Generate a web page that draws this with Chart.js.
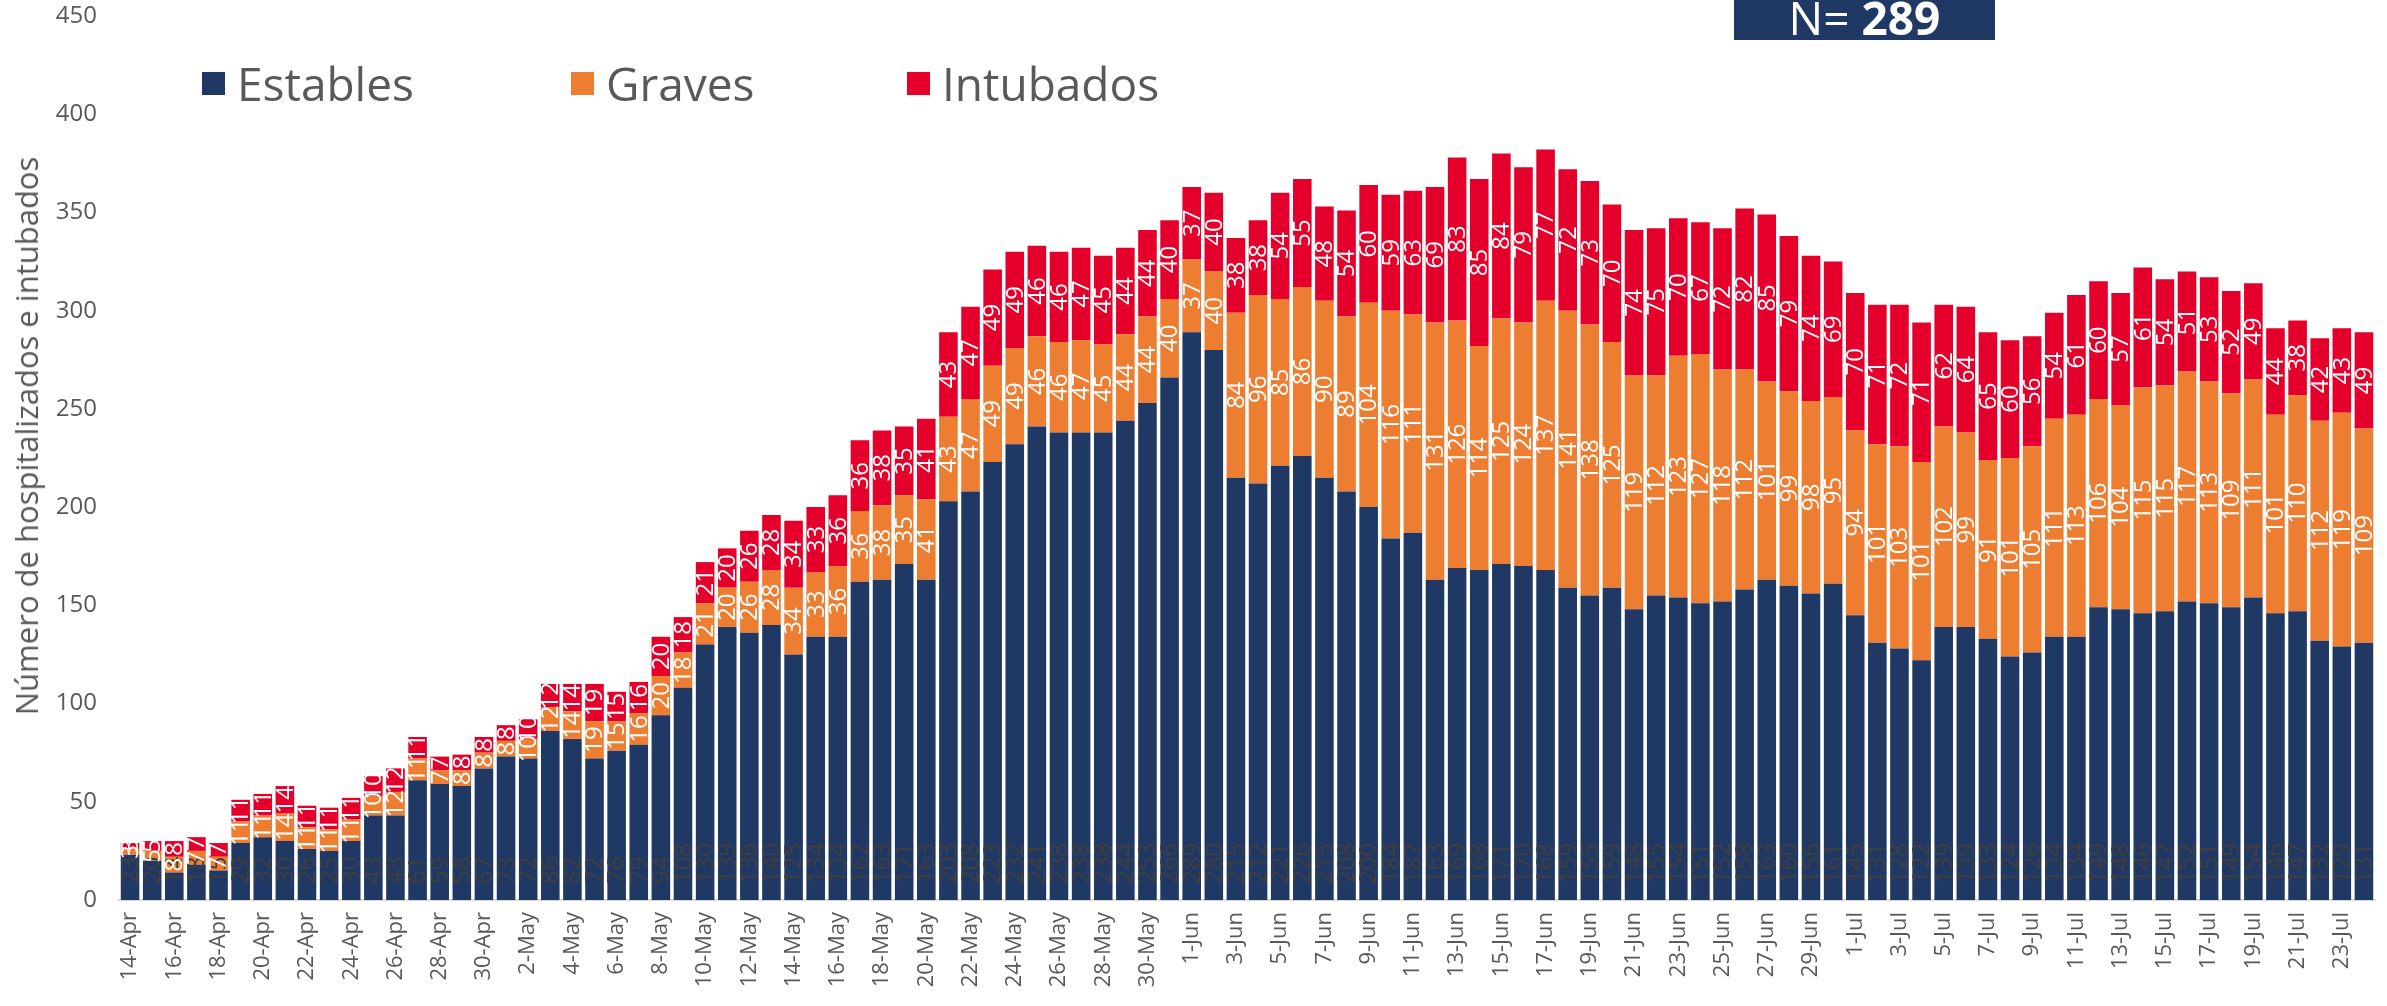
<!DOCTYPE html>
<html lang="es">
<head>
<meta charset="utf-8">
<title>Hospitalizados e intubados</title>
<script src="https://cdn.jsdelivr.net/npm/chart.js@4.4.1/dist/chart.umd.min.js"></script>
<style>
    html, body { margin: 0; padding: 0; background: #fff; }
    #wrap { position: relative; width: 2387px; height: 1006px; overflow: hidden; font-family: "Open Sans", "Noto Sans", sans-serif; }
    #chart { position: absolute; left: 0; top: 0; }
    .leg { position: absolute; top: 52px; display: flex; align-items: center; color: #595959; font-size: 46px; }
    .leg i { display: inline-block; width: 23px; height: 23px; margin-right: 12px; }
    #nbox { position: absolute; left: 1734px; top: -8px; width: 261px; height: 48px; background: #1f3864; color: #fff;
            font-size: 46px; line-height: 50px; text-align: center; }
    #nbox b { font-weight: 700; }
    #ytitle { position: absolute; left: 26px; top: 436px; width: 0; height: 0; }
    #ytitle span { position: absolute; left: 0; top: 0; transform: translate(-50%, -50%) rotate(-90deg);
                   white-space: nowrap; color: #595959; font-size: 31px; }
</style>
</head>
<body>
<div id="wrap">
    <canvas id="chart" width="2387" height="1006"></canvas>
    <div class="leg" style="left:202px"><i style="background:#1f3864"></i>Estables</div>
    <div class="leg" style="left:571px"><i style="background:#ed7d31"></i>Graves</div>
    <div class="leg" style="left:907px"><i style="background:#e4002b"></i>Intubados</div>
    <div id="nbox">N= <b>289</b></div>
    <div id="ytitle"><span>Número de hospitalizados e intubados</span></div>
</div>
<script>
const fechas = [
    '14-Apr','15-Apr','16-Apr','17-Apr','18-Apr','19-Apr','20-Apr','21-Apr','22-Apr','23-Apr',
    '24-Apr','25-Apr','26-Apr','27-Apr','28-Apr','29-Apr','30-Apr',
    '1-May','2-May','3-May','4-May','5-May','6-May','7-May','8-May','9-May','10-May',
    '11-May','12-May','13-May','14-May','15-May','16-May','17-May','18-May','19-May','20-May',
    '21-May','22-May','23-May','24-May','25-May','26-May','27-May','28-May','29-May','30-May','31-May',
    '1-Jun','2-Jun','3-Jun','4-Jun','5-Jun','6-Jun','7-Jun','8-Jun','9-Jun','10-Jun',
    '11-Jun','12-Jun','13-Jun','14-Jun','15-Jun','16-Jun','17-Jun','18-Jun','19-Jun','20-Jun',
    '21-Jun','22-Jun','23-Jun','24-Jun','25-Jun','26-Jun','27-Jun','28-Jun','29-Jun','30-Jun',
    '1-Jul','2-Jul','3-Jul','4-Jul','5-Jul','6-Jul','7-Jul','8-Jul','9-Jul','10-Jul',
    '11-Jul','12-Jul','13-Jul','14-Jul','15-Jul','16-Jul','17-Jul','18-Jul','19-Jul','20-Jul',
    '21-Jul','22-Jul','23-Jul','24-Jul'
];

const estables = [
    23, 20, 14, 18, 15, 29, 32, 30, 26, 25, 30, 43, 43, 61, 59, 58, 67,
    73, 72, 86, 82, 72, 76, 79, 94, 108, 130, 139, 136, 140, 125, 134, 134, 162, 163, 171, 163,
    203, 208, 223, 232, 241, 238, 238, 238, 244, 253, 266,
    289, 280, 215, 212, 221, 226, 215, 208, 200, 184, 187, 163, 169, 168, 171, 170, 168, 159, 155, 159,
    148, 155, 154, 151, 152, 158, 163, 160, 156, 161,
    145, 131, 128, 122, 139, 139, 133, 124, 126, 134, 134, 149, 148, 146, 147, 152, 151, 149, 154, 146,
    147, 132, 129, 131
];

const graves = [
    3, 5, 8, 7, 7, 11, 11, 14, 11, 11, 11, 10, 12, 11, 7, 8, 8,
    8, 10, 12, 14, 19, 15, 16, 20, 18, 21, 20, 26, 28, 34, 33, 36, 36, 38, 35, 41,
    43, 47, 49, 49, 46, 46, 47, 45, 44, 44, 40,
    37, 40, 84, 96, 85, 86, 90, 89, 104, 116, 111, 131, 126, 114, 125, 124, 137, 141, 138, 125,
    119, 112, 123, 127, 118, 112, 101, 99, 98, 95,
    94, 101, 103, 101, 102, 99, 91, 101, 105, 111, 113, 106, 104, 115, 115, 117, 113, 109, 111, 101,
    110, 112, 119, 109
];

const intubados = [
    3, 5, 8, 7, 7, 11, 11, 14, 11, 11, 11, 10, 12, 11, 7, 8, 8,
    8, 10, 12, 14, 19, 15, 16, 20, 18, 21, 20, 26, 28, 34, 33, 36, 36, 38, 35, 41,
    43, 47, 49, 49, 46, 46, 47, 45, 44, 44, 40,
    37, 40, 38, 38, 54, 55, 48, 54, 60, 59, 63, 69, 83, 85, 84, 79, 77, 72, 73, 70,
    74, 75, 70, 67, 72, 82, 85, 79, 74, 69,
    70, 71, 72, 71, 62, 64, 65, 60, 56, 54, 61, 60, 57, 61, 54, 51, 53, 52, 49, 44,
    38, 42, 43, 49
];

const yTicks = [0, 50, 100, 150, 200, 250, 300, 350, 400, 450];

const colEstables = '#1f3864';
const colGraves = '#ed7d31';
const colIntubados = '#e4002b';
const labelFont = '24px "Open Sans", sans-serif';

// etiquetas giradas dentro de cada segmento
const barLabels = {
    id: 'barLabels',
    afterDatasetsDraw(chart) {
        const ctx = chart.ctx;
        chart.data.datasets.forEach((ds, di) => {
            const meta = chart.getDatasetMeta(di);
            meta.data.forEach((bar, i) => {
                const v = ds.data[i];
                ctx.save();
                ctx.font = labelFont;
                ctx.textBaseline = 'middle';
                if (di === 0) {
                    ctx.translate(bar.x, bar.base - 16);
                    ctx.rotate(-Math.PI / 2);
                    ctx.fillStyle = '#404040';
                    ctx.textAlign = 'left';
                } else {
                    ctx.translate(bar.x, (bar.y + bar.base) / 2);
                    ctx.rotate(-Math.PI / 2);
                    ctx.fillStyle = '#ffffff';
                    ctx.textAlign = 'center';
                }
                ctx.fillText(String(v), 0, 1);
                ctx.restore();
            });
        });
    }
};

const ctx = document.getElementById('chart').getContext('2d');
const chart = new Chart(ctx, {
    type: 'bar',
    data: {
        labels: fechas,
        datasets: [
            { label: 'Estables', data: estables, backgroundColor: colEstables },
            { label: 'Graves', data: graves, backgroundColor: colGraves },
            { label: 'Intubados', data: intubados, backgroundColor: colIntubados }
        ]
    },
    options: {
        responsive: false,
        animation: false,
        devicePixelRatio: 1,
        layout: { padding: { top: 16, right: 12, bottom: 0, left: 0 } },
        datasets: { bar: { categoryPercentage: 1, barPercentage: 0.84 } },
        plugins: { legend: { display: false }, tooltip: { enabled: false } },
        scales: {
            x: {
                stacked: true,
                grid: { display: false, drawTicks: false },
                border: { display: true, color: '#d9d9d9', width: 2 },
                ticks: {
                    autoSkip: false, minRotation: 90, maxRotation: 90, padding: 12,
                    color: '#595959', font: { family: '"Open Sans", sans-serif', size: 22 },
                    callback: (val, idx) => idx % 2 === 0 ? fechas[idx] : ''
                },
                afterFit: s => { s.height = 106; s.paddingLeft = 0; s.paddingRight = 0; }
            },
            y: {
                stacked: true, min: 0, max: 450,
                grid: { display: false, drawTicks: false },
                border: { display: false },
                afterBuildTicks: s => { s.ticks = yTicks.map(v => ({ value: v })); },
                ticks: { padding: 22, color: '#595959', font: { family: '"Open Sans", sans-serif', size: 24 } },
                afterFit: s => { s.width = 119; s.paddingTop = 0; s.paddingBottom = 0; }
            }
        }
    },
    plugins: [barLabels]
});
</script>
</body>
</html>
